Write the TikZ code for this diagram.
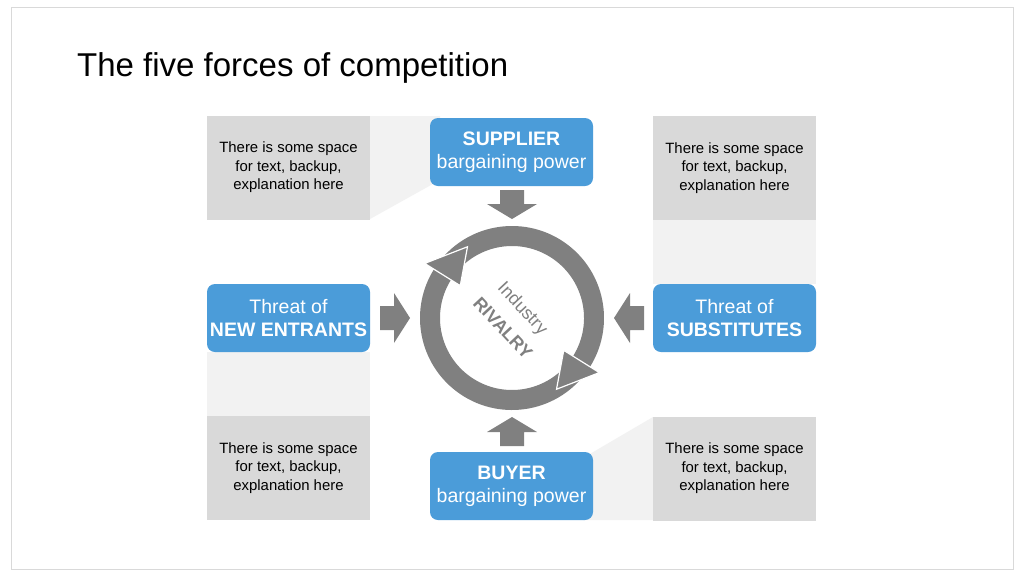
\documentclass[tikz,border=0pt]{standalone}
\usepackage{fontspec}
\setmainfont{Liberation Sans}
\begin{document}
\begin{tikzpicture}[x=1pt,y=-1pt,
  blue/.style={fill=bluec,rounded corners=8pt,minimum width=163pt,minimum height=68pt,align=center,text=white,font=\fontsize{19.5}{23}\selectfont,inner sep=0pt},
  note/.style={fill=grayc,minimum width=163pt,minimum height=104pt,align=center,font=\fontsize{14.9}{18.5}\selectfont,inner sep=0pt},
  arr/.style={fill=arrc}]
\definecolor{bluec}{HTML}{4B9CD9}
\definecolor{grayc}{HTML}{D9D9D9}
\definecolor{lightc}{HTML}{F2F2F2}
\definecolor{arrc}{HTML}{808080}
\useasboundingbox (0,0) rectangle (1024,576);
\fill[white] (0,0) rectangle (1024,576);
\draw[gray!30,line width=1pt] (11,7) rectangle (1013,569);
\node[anchor=base west,font=\fontsize{33}{37}\selectfont,inner sep=0pt] (title) at (77,76) {The five forces of competition};
% light connectors
\fill[lightc] (370,116) -- (440,116) -- (440,180) -- (370,219) -- cycle;
\fill[lightc] (653,220) rectangle (816,284);
\fill[lightc] (207,352) rectangle (370,416);
\fill[lightc] (583,458) -- (653,417) -- (653,520) -- (583,520) -- cycle;
% notes
\node[note] (ntl) at (288.5,167.5) {There is some space\\for text, backup,\\explanation here};
\node[note] (ntr) at (734.5,168) {There is some space\\for text, backup,\\explanation here};
\node[note] (nbl) at (288.5,468) {There is some space\\for text, backup,\\explanation here};
\node[note] (nbr) at (734.5,468.5) {There is some space\\for text, backup,\\explanation here};
% blue boxes
\node[blue] (sup) at (511.5,152) {\textbf{SUPPLIER}\\bargaining power};
\node[blue] (buy) at (511.5,486) {\textbf{BUYER}\\bargaining power};
\node[blue] (new) at (288.5,318) {Threat of\\\textbf{NEW ENTRANTS}};
\node[blue] (subs) at (734.5,318) {Threat of\\\textbf{SUBSTITUTES}};
% block arrows
\fill[arr] (500,190) -- (524,190) -- (524,204) -- (537,204) -- (512,219) -- (487,204) -- (500,204) -- cycle;
\fill[arr] (500,446) -- (524,446) -- (524,432) -- (537,432) -- (512,417) -- (487,432) -- (500,432) -- cycle;
\fill[arr] (380,306) -- (380,330) -- (394,330) -- (394,343) -- (410,318) -- (394,293) -- (394,306) -- cycle;
\fill[arr] (644,306) -- (644,330) -- (630,330) -- (630,343) -- (614,318) -- (630,293) -- (630,306) -- cycle;
% ring
\coordinate (c) at (512,318);
\begin{scope}[shift={(512,318)},x=1pt,y=1pt]
  \fill[arrc] (-40:92) arc[start angle=-40,end angle=-212,radius=92] -- (-212:72) arc[start angle=-212,end angle=-40,radius=72] -- cycle;
  \fill[arrc] (140:92) arc[start angle=140,end angle=-32,radius=92] -- (-32:72) arc[start angle=-32,end angle=140,radius=72] -- cycle;
  \filldraw[arrc,draw=white,line width=1.2pt] (-212:61) -- (-212:103) -- (-238:84) -- cycle;
  \filldraw[arrc,draw=white,line width=1.2pt] (-32:61) -- (-32:103) -- (-58:84) -- cycle;
  \node[rotate=-47,text=arrc,font=\fontsize{18}{21}\selectfont,inner sep=0pt] (ind) at (10,9) {Industry};
  \node[rotate=-47,text=arrc,font=\bfseries\fontsize{18}{21}\selectfont,inner sep=0pt] (riv) at (-9,-10) {RIVALRY};
\end{scope}
\end{tikzpicture}
\end{document}
